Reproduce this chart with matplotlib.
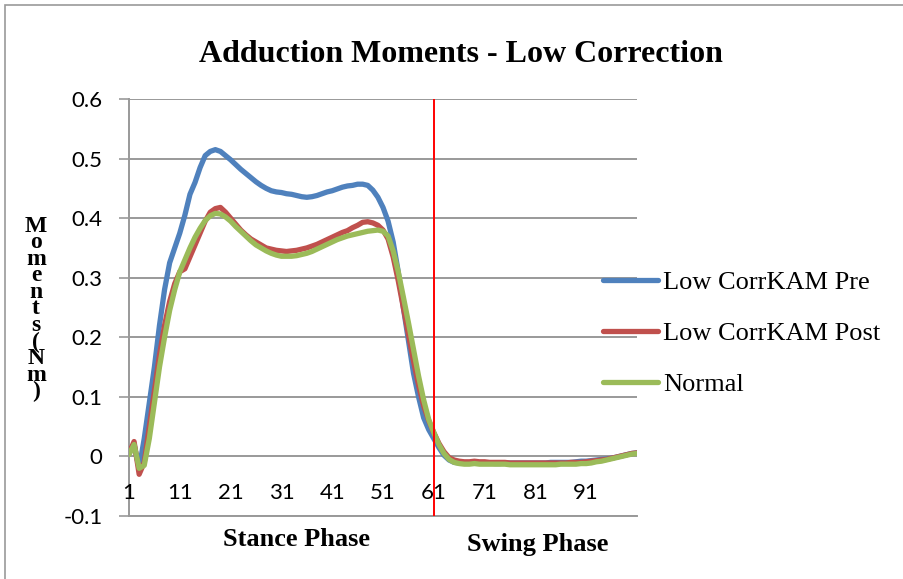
import matplotlib
matplotlib.use("Agg")
import matplotlib.pyplot as plt
from matplotlib.patches import Rectangle

# gait cycle sample index 1..101
frames = list(range(1, 102))

pre = [0.005, 0.02, -0.02, 0.03, 0.09, 0.15, 0.22, 0.28, 0.325, 0.35,
       0.375, 0.405, 0.44, 0.46, 0.485, 0.505, 0.512, 0.515, 0.512, 0.505,
       0.498, 0.49, 0.482, 0.475, 0.468, 0.461, 0.455, 0.45, 0.446, 0.444,
       0.443, 0.441, 0.44, 0.438, 0.436, 0.435, 0.436, 0.438, 0.441, 0.444,
       0.446, 0.449, 0.452, 0.454, 0.455, 0.457, 0.457, 0.455, 0.447, 0.435,
       0.418, 0.395, 0.36, 0.31, 0.25, 0.195, 0.14, 0.1, 0.065, 0.045,
       0.03, 0.015, 0.002, -0.006, -0.01, -0.011, -0.011, -0.011, -0.01, -0.011,
       -0.011, -0.011, -0.012, -0.012, -0.011, -0.011, -0.011, -0.011, -0.011, -0.011,
       -0.011, -0.011, -0.011, -0.01, -0.01, -0.01, -0.01, -0.01, -0.009, -0.008,
       -0.008, -0.007, -0.006, -0.005, -0.004, -0.003, -0.001, 0.001, 0.003, 0.005,
       0.006]

post = [0.005, 0.025, -0.03, -0.01, 0.05, 0.11, 0.17, 0.22, 0.26, 0.29,
        0.31, 0.315, 0.335, 0.355, 0.375, 0.395, 0.41, 0.416, 0.418, 0.41,
        0.4, 0.39, 0.38, 0.372, 0.365, 0.36, 0.355, 0.35, 0.348, 0.346,
        0.345, 0.344, 0.345, 0.346, 0.348, 0.35, 0.353, 0.356, 0.36, 0.364,
        0.368, 0.372, 0.376, 0.379, 0.384, 0.388, 0.393, 0.394, 0.392, 0.388,
        0.38, 0.365, 0.335, 0.295, 0.25, 0.205, 0.16, 0.12, 0.085, 0.06,
        0.04, 0.022, 0.008, -0.002, -0.006, -0.008, -0.009, -0.009, -0.008, -0.009,
        -0.009, -0.01, -0.01, -0.01, -0.01, -0.011, -0.011, -0.011, -0.011, -0.011,
        -0.011, -0.011, -0.011, -0.011, -0.011, -0.011, -0.011, -0.01, -0.01, -0.01,
        -0.009, -0.008, -0.007, -0.006, -0.005, -0.003, -0.001, 0.001, 0.003, 0.005,
        0.006]

normal = [0.003, 0.02, -0.02, -0.015, 0.03, 0.09, 0.15, 0.2, 0.245, 0.28,
          0.31, 0.33, 0.35, 0.368, 0.383, 0.396, 0.404, 0.408, 0.407, 0.402,
          0.395, 0.386, 0.378, 0.37, 0.362, 0.355, 0.35, 0.345, 0.341, 0.338,
          0.336, 0.336, 0.336, 0.337, 0.339, 0.341, 0.344, 0.348, 0.352, 0.356,
          0.36, 0.364, 0.367, 0.37, 0.372, 0.374, 0.376, 0.378, 0.379, 0.38,
          0.378, 0.37, 0.345, 0.31, 0.268, 0.225, 0.18, 0.135, 0.095, 0.062,
          0.04, 0.02, 0.005, -0.005, -0.01, -0.012, -0.013, -0.013, -0.012, -0.013,
          -0.013, -0.013, -0.013, -0.013, -0.013, -0.014, -0.014, -0.014, -0.014, -0.014,
          -0.014, -0.014, -0.014, -0.014, -0.014, -0.013, -0.013, -0.013, -0.013, -0.012,
          -0.012, -0.011, -0.009, -0.008, -0.006, -0.004, -0.002, 0.0, 0.002, 0.004,
          0.005]

labels = ["Low CorrKAM Pre", "Low CorrKAM Post", "Normal"]
colors = ["#4F81BD", "#C0504D", "#9BBB59"]
xtick_vals = [1, 11, 21, 31, 41, 51, 61, 71, 81, 91]
yticks = [-0.1, 0, 0.1, 0.2, 0.3, 0.4, 0.5, 0.6]
stance_end = 61

serif = "Liberation Serif"
sans = "Lato"

fig = plt.figure(figsize=(9.04, 5.79), dpi=100)
fig.patch.set_facecolor("white")
fig.patches.append(Rectangle((5 / 904, -0.01), 1.0, 1 - 5 / 579 + 0.01,
                             transform=fig.transFigure, fill=False,
                             edgecolor="#999999", linewidth=1.2))

ax = fig.add_axes([129 / 904, 1 - 516 / 579, (637 - 129) / 904, (516 - 99) / 579])

for ys, c, lab in zip([pre, post, normal], colors, labels):
    ax.plot(frames, ys, color=c, linewidth=3.8, solid_capstyle="round", label=lab, zorder=3)

ax.axvline(stance_end, color="#FF0000", linewidth=1.4, zorder=4)

ax.set_xlim(1, 101)
ax.set_ylim(-0.1, 0.6)
ax.set_yticks(yticks)
ax.set_yticklabels(["-0.1", "0", "0.1", "0.2", "0.3", "0.4", "0.5", "0.6"],
                   fontfamily=sans, fontsize=16)
ax.yaxis.grid(True, color="#999999", linewidth=1.4)
ax.tick_params(axis="y", length=7, width=1.2, color="#999999", pad=12)
ax.set_xticks([])
for v in xtick_vals:
    ax.text(v, -0.061, str(v), ha="center", va="center", fontfamily=sans, fontsize=16)

for s in ["top", "right"]:
    ax.spines[s].set_visible(False)
for s in ["left", "bottom"]:
    ax.spines[s].set_color("#999999")
    ax.spines[s].set_linewidth(1.4)
ax.set_axisbelow(True)

fig.text(461 / 904, 1 - 54 / 579, "Adduction Moments - Low Correction",
         ha="center", va="center", fontfamily=serif, fontweight="bold", fontsize=23)
fig.text(297 / 904, 1 - 540 / 579, "Stance Phase", ha="center", va="center",
         fontfamily=serif, fontweight="bold", fontsize=19)
fig.text(538 / 904, 1 - 544 / 579, "Swing Phase", ha="center", va="center",
         fontfamily=serif, fontweight="bold", fontsize=19)

# vertical stacked y label, one letter per line
ylab = "Moments(Nm)"
fig.text(36 / 904, 1 - 309 / 579, "\n".join(ylab), ha="center", va="center",
         fontfamily=serif, fontweight="bold", fontsize=17, linespacing=0.72,
         multialignment="center")

leg = fig.legend(handles=ax.get_lines()[:3], labels=labels, loc="upper left",
                 bbox_to_anchor=(592 / 904, 1 - 260 / 579), frameon=False,
                 prop={"family": serif, "size": 19}, handlelength=2.1,
                 handletextpad=0.2, labelspacing=1.05, borderaxespad=0)

fig.savefig("out.png", dpi=100)
